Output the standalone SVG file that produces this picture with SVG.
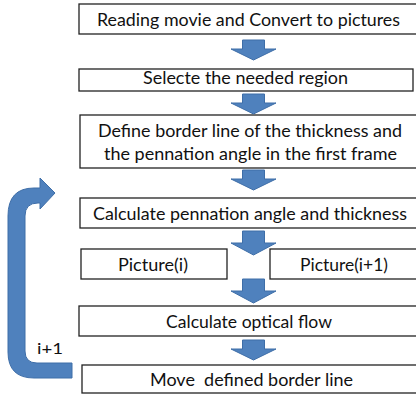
<svg xmlns="http://www.w3.org/2000/svg" width="416" height="398" viewBox="0 0 416 398">
<style>
.box{fill:#fff;stroke:#222;stroke-width:1.3}
.t{font-family:Lato,"Open Sans","Liberation Sans",sans-serif;font-size:16.5px;fill:#111;text-anchor:middle}
.arr{fill:#4f81bd;stroke:#3e6ea8;stroke-width:1}
</style>
<defs>
<path id="down" class="arr" d="M-11,0 H11 V9 H22.5 L0,20 L-22.5,9 H-11 Z"/>
</defs>
<g id="n1"><rect class="box" x="79" y="4" width="340" height="30"/><text class="t" x="248.5" y="26" textLength="303" lengthAdjust="spacingAndGlyphs">Reading movie and Convert to pictures</text></g>
<g id="n2"><rect class="box" x="79" y="69" width="334" height="22"/><text class="t" x="245.5" y="84" textLength="205" lengthAdjust="spacingAndGlyphs">Selecte the needed region</text></g>
<g id="n3"><rect class="box" x="80" y="115" width="339" height="53"/><text class="t" x="250" y="137" textLength="304" lengthAdjust="spacingAndGlyphs">Define border line of the thickness and</text><text class="t" x="250.5" y="160" textLength="293" lengthAdjust="spacingAndGlyphs">the pennation angle in the first frame</text></g>
<g id="n4"><rect class="box" x="80" y="198" width="339" height="30"/><text class="t" x="250" y="220" textLength="314" lengthAdjust="spacingAndGlyphs">Calculate pennation angle and thickness</text></g>
<g id="n5"><rect class="box" x="81" y="249" width="146" height="30"/><text class="t" x="153" y="271" textLength="70" lengthAdjust="spacingAndGlyphs">Picture(i)</text></g>
<g id="n6"><rect class="box" x="270" y="249" width="149" height="30"/><text class="t" x="344" y="271" textLength="88" lengthAdjust="spacingAndGlyphs">Picture(i+1)</text></g>
<g id="n7"><rect class="box" x="79" y="306" width="340" height="30"/><text class="t" x="249" y="328" textLength="166" lengthAdjust="spacingAndGlyphs">Calculate optical flow</text></g>
<g id="n8"><rect class="box" x="82" y="365" width="337" height="28"/><text class="t" x="251.5" y="386" textLength="203" lengthAdjust="spacingAndGlyphs" xml:space="preserve">Move  defined border line</text></g>
<g id="connectors">
<use href="#down" x="253.5" y="40"/>
<use href="#down" x="253.5" y="94"/>
<use href="#down" x="253.5" y="170"/>
<path class="arr" d="M242.5,231 H264.5 V243 H276 L253.5,255 L231,243 H242.5 Z"/>
<path class="arr" d="M242.5,279 H264.5 V291 H276 L253.5,303 L231,291 H242.5 Z"/>
<use href="#down" x="253.5" y="340"/>
<path class="arr" d="M72,363 H37 Q25,363 25,351 V216 Q25,203 38,203 H40 V209 L55,193 L40,178 V188 H34 Q8,188 8,216 V352 Q8,378 34,378 H72 Z"/>
<text x="37" y="354" textLength="26" lengthAdjust="spacingAndGlyphs" style="font-family:Lato,'Open Sans','Liberation Sans',sans-serif;font-size:16px;fill:#111">i+1</text>
</g>
</svg>
